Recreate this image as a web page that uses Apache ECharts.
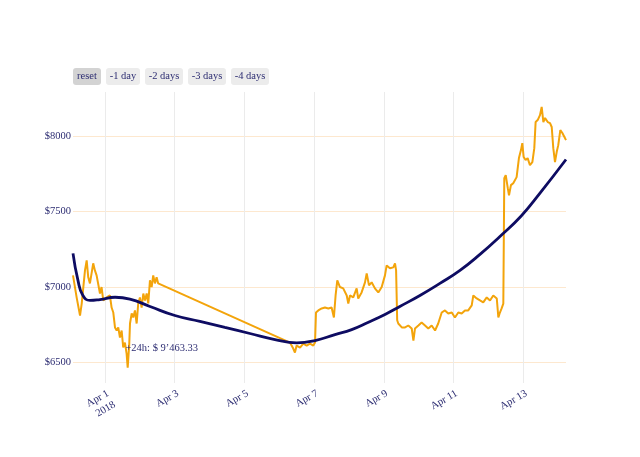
<!DOCTYPE html>
<html><head><meta charset="utf-8">
<script src="https://cdn.jsdelivr.net/npm/echarts@6/dist/echarts.min.js"></script>
<style>html,body{margin:0;padding:0;background:#fff}#c{width:640px;height:457px}</style>
</head><body><div id="c"></div>
<script>
const priceTimes = [
'2018-03-31 02:00','2018-03-31 04:30','2018-03-31 06:50','2018-03-31 08:00','2018-03-31 10:15','2018-03-31 11:25',
'2018-03-31 12:30','2018-03-31 13:40','2018-03-31 15:55','2018-03-31 17:05','2018-03-31 18:15','2018-03-31 20:35',
'2018-03-31 21:40','2018-03-31 22:50','2018-04-01 01:10','2018-04-01 03:25','2018-04-01 04:35','2018-04-01 05:45',
'2018-04-01 06:55','2018-04-01 08:05','2018-04-01 09:10','2018-04-01 10:20','2018-04-01 11:30','2018-04-01 12:35',
'2018-04-01 13:45','2018-04-01 14:55','2018-04-01 15:40','2018-04-01 16:45','2018-04-01 17:15','2018-04-01 18:25',
'2018-04-01 19:30','2018-04-01 20:40','2018-04-01 21:50','2018-04-01 22:55','2018-04-02 00:05','2018-04-02 01:15',
'2018-04-02 02:25','2018-04-02 03:35','2018-04-02 04:45','2018-04-02 05:50','2018-04-02 07:00','2018-04-02 08:10',
'2018-04-02 09:15','2018-04-02 10:25','2018-04-02 11:35','2018-04-02 12:40',
'2018-04-06 07:25','2018-04-06 09:40','2018-04-06 10:50','2018-04-06 12:00','2018-04-06 14:20','2018-04-06 16:35',
'2018-04-06 18:55','2018-04-06 21:10','2018-04-06 23:30','2018-04-07 00:40','2018-04-07 01:20','2018-04-07 02:55',
'2018-04-07 05:15','2018-04-07 07:30','2018-04-07 09:50','2018-04-07 12:05','2018-04-07 13:40','2018-04-07 14:50',
'2018-04-07 16:00','2018-04-07 17:50','2018-04-07 20:05','2018-04-07 22:30','2018-04-07 23:35','2018-04-08 00:45',
'2018-04-08 03:00','2018-04-08 05:20','2018-04-08 06:25','2018-04-08 08:45','2018-04-08 11:05','2018-04-08 12:15',
'2018-04-08 13:50','2018-04-08 15:40','2018-04-08 17:55','2018-04-08 20:15','2018-04-08 22:35','2018-04-09 00:50',
'2018-04-09 02:00','2018-04-09 04:15','2018-04-09 06:35','2018-04-09 07:45','2018-04-09 08:30','2018-04-09 09:15',
'2018-04-09 10:00','2018-04-09 12:25','2018-04-09 14:40','2018-04-09 16:55','2018-04-09 19:15','2018-04-09 20:25',
'2018-04-09 21:30','2018-04-09 23:50','2018-04-10 02:05','2018-04-10 04:25','2018-04-10 06:40','2018-04-10 09:00',
'2018-04-10 11:20','2018-04-10 13:30','2018-04-10 15:55','2018-04-10 18:10','2018-04-10 20:25','2018-04-10 22:50',
'2018-04-11 01:00','2018-04-11 03:20','2018-04-11 05:40','2018-04-11 07:55','2018-04-11 10:10','2018-04-11 12:35',
'2018-04-11 13:40','2018-04-11 16:00','2018-04-11 18:15','2018-04-11 20:30','2018-04-11 22:55','2018-04-12 01:10',
'2018-04-12 03:25','2018-04-12 05:50','2018-04-12 06:55','2018-04-12 08:00','2018-04-12 09:10','2018-04-12 10:20',
'2018-04-12 11:00','2018-04-12 12:00','2018-04-12 13:25','2018-04-12 14:15','2018-04-12 15:35','2018-04-12 17:10',
'2018-04-12 19:30','2018-04-12 21:05','2018-04-12 22:30','2018-04-12 23:25','2018-04-13 00:20','2018-04-13 01:40',
'2018-04-13 03:05','2018-04-13 04:40','2018-04-13 06:20','2018-04-13 07:40','2018-04-13 08:35','2018-04-13 10:00',
'2018-04-13 11:35','2018-04-13 12:45','2018-04-13 13:55','2018-04-13 15:05','2018-04-13 16:55','2018-04-13 18:30',
'2018-04-13 19:40','2018-04-13 20:45','2018-04-13 21:55','2018-04-13 23:05','2018-04-14 00:10','2018-04-14 01:35',
'2018-04-14 03:00','2018-04-14 04:20','2018-04-14 05:30'
];
const priceValues = [
7077,6931,6811,6890,7110,7177,
7064,7024,7157,7110,7077,6957,
7000,6911,6931,6944,6864,6831,
6732,6712,6732,6665,6712,6599,
6632,6559,6466,6625,6758,6825,
6798,6845,6758,6891,6931,6864,
6957,6911,6957,6891,7044,7000,
7077,7024,7064,7024,
6632,6592,6566,6612,6599,6625,
6612,6625,6612,6632,6831,6845,
6858,6864,6858,6864,6798,6944,
7044,7000,6991,6944,6891,6944,
6931,6991,6924,6964,7031,7090,
7011,7031,6991,6964,7000,7077,
7143,7124,7130,7157,7110,6780,
6758,6732,6732,6745,6725,6645,
6725,6745,6765,6745,6725,6745,
6712,6758,6831,6845,6825,6831,
6798,6831,6825,6845,6845,6878,
6944,6924,6911,6898,6931,6911,
6944,6924,6798,6831,6858,6890,
7721,7741,7655,7608,7675,7688,
7728,7854,7907,7953,7861,7841,
7854,7807,7827,7920,8093,8106,
8139,8193,8093,8120,8093,8086,
8060,7920,7827,7894,7940,8040,
8020,8007,7973
];
const trendTimes = [
'2018-03-31 02:00','2018-03-31 05:25','2018-03-31 08:50','2018-03-31 13:40','2018-03-31 20:35',
'2018-04-01 07:00','2018-04-01 17:10','2018-04-02 07:00','2018-04-03 00:10',
'2018-04-03 17:25','2018-04-04 10:35','2018-04-05 03:50','2018-04-05 21:05','2018-04-06 12:00',
'2018-04-07 00:40','2018-04-07 14:25','2018-04-08 01:55','2018-04-08 13:05','2018-04-09 00:50','2018-04-09 11:05',
'2018-04-10 00:55','2018-04-10 14:40','2018-04-11 04:30','2018-04-11 18:15','2018-04-12 08:00','2018-04-12 22:30',
'2018-04-13 11:35','2018-04-14 05:30'
];
const trendValues = [
7223,7044,6944,6911,6917,
6932,6920,6871,6811,
6772,6732,6692,6652,6630,
6645,6685,6718,6765,6818,6871,
6944,7024,7110,7216,7335,7469,
7622,7845
];
const xTickTimes = ['2018-04-01 00:00','2018-04-03 00:00','2018-04-05 00:00','2018-04-07 00:00','2018-04-09 00:00','2018-04-11 00:00','2018-04-13 00:00'];
const xTickLabels = ['Apr 1\n2018','Apr 3','Apr 5','Apr 7','Apr 9','Apr 11','Apr 13'];
const yTickValues = [6500, 7000, 7500, 8000];
const yTickLabels = ['$6500','$7000','$7500','$8000'];
const buttonLabels = ['reset','-1 day','-2 days','-3 days','-4 days'];
const annotationPoint = ['2018-04-01 13:45', 6594];
const annotationText = '+24h: $ 9\u2019463.33';
const xRange = ['2018-03-31 02:00','2018-04-14 05:30'];
const yRange = [6364, 8292];

function t(s){ return new Date(s.replace(' ','T')+':00').getTime(); }
const xTicksNum = xTickTimes.map(t);
const labelMap = {};
xTicksNum.forEach((v,i)=>{ labelMap[v] = xTickLabels[i]; });
const yLabelMap = {};
yTickValues.forEach((v,i)=>{ yLabelMap[v] = yTickLabels[i]; });

const txt = '#2d2d72';
const font = 'Liberation Serif';
const fs = 10.5;

const btnBoxes = [[73,28],[106,34],[145,38],[188,38],[231,38]];
const graphic = [];
buttonLabels.forEach((lab,i)=>{
  const [x,w] = btnBoxes[i];
  graphic.push({type:'rect', shape:{x:x,y:68,width:w,height:17,r:3}, style:{fill: i===0 ? '#d3d3d3' : '#ececec'}, z:10});
  graphic.push({type:'text', x:x+w/2, y:76.5, style:{text:lab, fill:txt, font: fs+'px "'+font+'"', align:'center', verticalAlign:'middle'}, z:11});
});

const chart = echarts.init(document.getElementById('c'), null, {renderer:'canvas'});
chart.setOption({
  animation:false,
  backgroundColor:'#ffffff',
  graphic: graphic,
  grid:{left:73, right:74, top:92, bottom:74, containLabel:false},
  xAxis:{
    type:'value', min:t(xRange[0]), max:t(xRange[1]),
    axisLine:{show:false},
    axisTick:{show:false, customValues:xTicksNum},
    splitLine:{show:true, lineStyle:{color:'#ebebeb', width:1}},
    axisLabel:{customValues:xTicksNum, rotate:30, margin:4, color:txt, fontFamily:font, fontSize:fs,
      verticalAlign:'top', lineHeight:13,
      formatter:(v)=>labelMap[v] || ''}
  },
  yAxis:{
    type:'value', min:yRange[0], max:yRange[1],
    axisLine:{show:false},
    axisTick:{show:false, customValues:yTickValues},
    splitLine:{show:true, lineStyle:{color:'#fde8cf', width:1}},
    axisLabel:{customValues:yTickValues, margin:2, color:txt, fontFamily:font, fontSize:fs,
      formatter:(v)=>yLabelMap[v] || ''}
  },
  series:[
    {type:'line', name:'price', showSymbol:false, symbol:'none', z:2,
     data: priceTimes.map((s,i)=>[t(s), priceValues[i]]),
     lineStyle:{color:'#f3a40b', width:2},
     markPoint:{symbol:'rect', symbolSize:[1,1], itemStyle:{color:'rgba(0,0,0,0)'},
       label:{show:true, position:'right', distance:0, formatter:annotationText, color:txt, fontFamily:font, fontSize:fs},
       data:[{coord:[t(annotationPoint[0]), annotationPoint[1]]}]}
    },
    {type:'line', name:'trend', showSymbol:false, symbol:'none', smooth:0.5, z:3,
     data: trendTimes.map((s,i)=>[t(s), trendValues[i]]),
     lineStyle:{color:'#0e0c62', width:2.8}
    }
  ]
});
</script></body></html>
